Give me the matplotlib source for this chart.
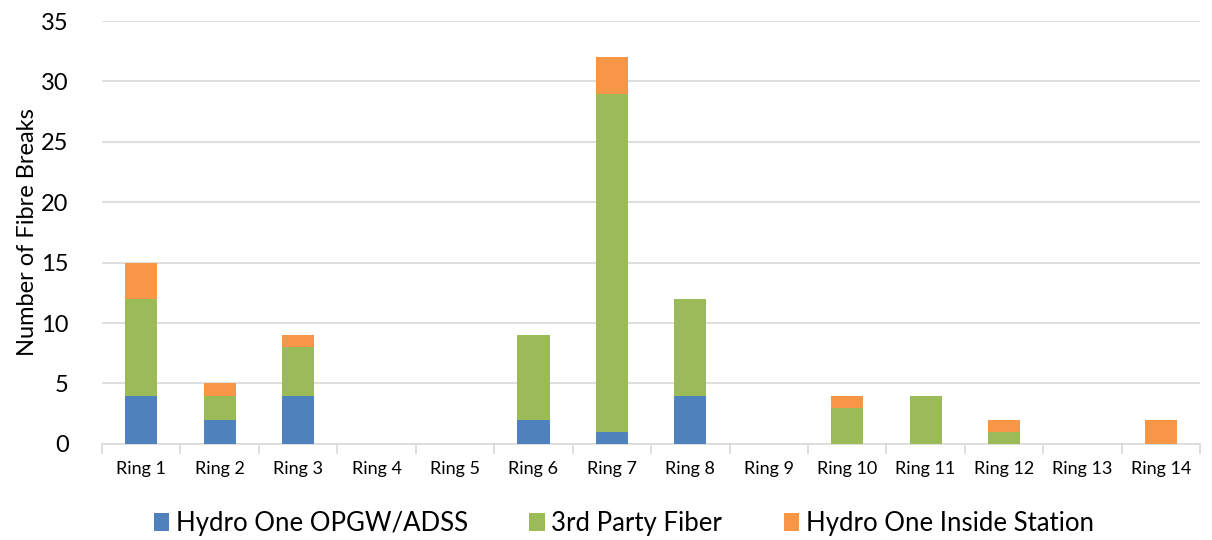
import numpy as np
import matplotlib.pyplot as plt
from matplotlib.ticker import FixedLocator, MultipleLocator

plt.rcParams['font.family'] = ['Lato', 'DejaVu Sans']

rings = ['Ring 1', 'Ring 2', 'Ring 3', 'Ring 4', 'Ring 5', 'Ring 6', 'Ring 7',
         'Ring 8', 'Ring 9', 'Ring 10', 'Ring 11', 'Ring 12', 'Ring 13', 'Ring 14']
opgw = [4, 2, 4, 0, 0, 2, 1, 4, 0, 0, 0, 0, 0, 0]
third_party = [8, 2, 4, 0, 0, 7, 28, 8, 0, 3, 4, 1, 0, 0]
inside_station = [3, 1, 1, 0, 0, 0, 3, 0, 0, 1, 0, 1, 0, 2]

series = [
    ('Hydro One OPGW/ADSS', opgw, '#4F81BD'),
    ('3rd Party Fiber', third_party, '#9BBB59'),
    ('Hydro One Inside Station', inside_station, '#F79646'),
]

fig = plt.figure(figsize=(12.12, 5.4), dpi=100)
ax = fig.add_axes([0.0842, 0.178, 0.906, 0.783])

x = np.arange(len(rings))
bottom = np.zeros(len(rings))
for label, vals, color in series:
    vals = np.array(vals, dtype=float)
    ax.bar(x, vals, width=0.41, bottom=bottom, color=color, label=label, zorder=3)
    bottom += vals

ax.set_xlim(-0.5, len(rings) - 0.5)
ax.set_ylim(0, 35)
ax.yaxis.set_major_locator(MultipleLocator(5))
ax.grid(axis='y', color='#D9D9D9', linewidth=1.2, zorder=0)

for s in ['top', 'right', 'left']:
    ax.spines[s].set_visible(False)
ax.spines['bottom'].set_color('#D9D9D9')
ax.spines['bottom'].set_linewidth(1.2)

ax.set_xticks(x)
ax.set_xticklabels(rings, fontsize=13)
ax.tick_params(axis='x', which='major', length=0, pad=12)
ax.xaxis.set_minor_locator(FixedLocator(np.arange(-0.5, len(rings), 1.0)))
ax.tick_params(axis='x', which='minor', length=7, color='#D9D9D9', width=1.2)
ax.tick_params(axis='y', length=0, labelsize=17, pad=24)

ax.set_ylabel('Number of Fibre Breaks', fontsize=17, labelpad=2)

ax.legend(loc='upper center', bbox_to_anchor=(0.475, -0.105), ncol=3, frameon=False,
          fontsize=18.5, handlelength=0.6, handleheight=0.7, handletextpad=0.25,
          columnspacing=2.4)

fig.savefig('out.png', dpi=100)
